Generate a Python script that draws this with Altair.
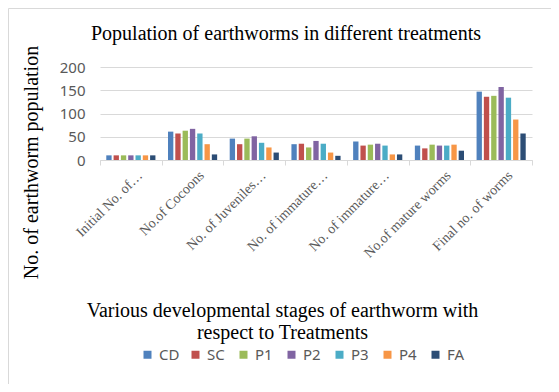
import altair as alt
import pandas as pd

categories = ["Initial No. of…", "No.of Cocoons", "No. of Juveniles…", "No. of immature…",
              "No. of  immature…", "No.of mature worms", "Final no. of worms"]
treatments = ["CD", "SC", "P1", "P2", "P3", "P4", "FA"]
colors = ["#4F81BD", "#C0504D", "#9BBB59", "#8064A2", "#4BACC6", "#F79646", "#2C4D75"]

CD = [10, 61, 46, 34, 40, 31, 147]
SC = [10, 57, 34, 35, 31, 25, 136]
P1 = [10, 63, 46, 27, 33, 33, 138]
P2 = [10, 67, 51, 41, 35, 31, 157]
P3 = [10, 57, 37, 35, 31, 31, 134]
P4 = [10, 34, 27, 16, 12, 33, 87]
FA = [10, 12, 16, 9, 12, 20, 57]

series = {"CD": CD, "SC": SC, "P1": P1, "P2": P2, "P3": P3, "P4": P4, "FA": FA}
rows = []
for t in treatments:
    for c, v in zip(categories, series[t]):
        rows.append({"stage": c, "treatment": t, "value": v})
df = pd.DataFrame(rows)

W, H = 432, 93

bars = alt.Chart(df).mark_bar().encode(
    x=alt.X("stage:N", sort=categories,
            scale=alt.Scale(paddingInner=0, paddingOuter=0),
            axis=alt.Axis(title=["Various developmental stages of earthworm with", "respect to Treatments"],
                          labelAngle=-45, labelFont="Liberation Serif", labelFontSize=14,
                          labelColor="#595959", labelPadding=3, labelOffset=4,
                          tickBand="extent", tickSize=5, tickColor="#d9d9d9",
                          domainColor="#d9d9d9", grid=False,
                          titleFont="Liberation Serif", titleFontSize=20, titleFontWeight="normal",
                          titleColor="#000000", titleX=182, titleY=140, titleBaseline="top",
                          titleLineHeight=22, titleAlign="center")),
    xOffset=alt.XOffset("treatment:N", sort=treatments,
                        scale=alt.Scale(paddingInner=0.27, paddingOuter=0.86)),
    y=alt.Y("value:Q", scale=alt.Scale(domain=[0, 200], nice=False),
            axis=alt.Axis(title="No. of earthworm population", values=[0, 50, 100, 150, 200],
                          labelFont="Noto Sans", labelFontSize=15, labelColor="#595959",
                          labelPadding=15, domain=False, ticks=False,
                          gridColor="#d9d9d9",
                          titleFont="Liberation Serif", titleFontSize=20, titleFontWeight="normal",
                          titleColor="#000000", titleX=-69, titleY=95, titleBaseline="middle",
                          titleAlign="center")),
    color=alt.Color("treatment:N", sort=treatments,
                    scale=alt.Scale(domain=treatments, range=colors),
                    legend=alt.Legend(title=None, orient="none", direction="horizontal",
                                      legendX=40, legendY=280, columns=7, gridAlign="all",
                                      symbolType="square", symbolSize=64, symbolStrokeWidth=0,
                                      labelFont="Noto Sans", labelFontSize=15, labelColor="#595959",
                                      labelOffset=4, columnPadding=8)),
)

border = alt.Chart(alt.Data(values=[{}])).mark_rect(
    fill=None, stroke="#d9d9d9", strokeWidth=1
).encode(x=alt.value(-91.5), x2=alt.value(452.5), y=alt.value(-58.5), y2=alt.value(319.5))

chart = alt.layer(border, bars).properties(
    width=W, height=H,
    title=alt.TitleParams("Population of earthworms in different treatments",
                          font="Liberation Serif", fontSize=20, fontWeight="normal",
                          color="#000000", anchor="middle", frame="group", dx=-30,
                          baseline="alphabetic", offset=-51.5),
    autosize=alt.AutoSizeParams(type="none"),
    padding={"left": 92, "top": 59, "right": 19, "bottom": 224},
).configure_view(stroke=None)

chart.save("out.html", embed_options={"renderer": "svg", "actions": False})
